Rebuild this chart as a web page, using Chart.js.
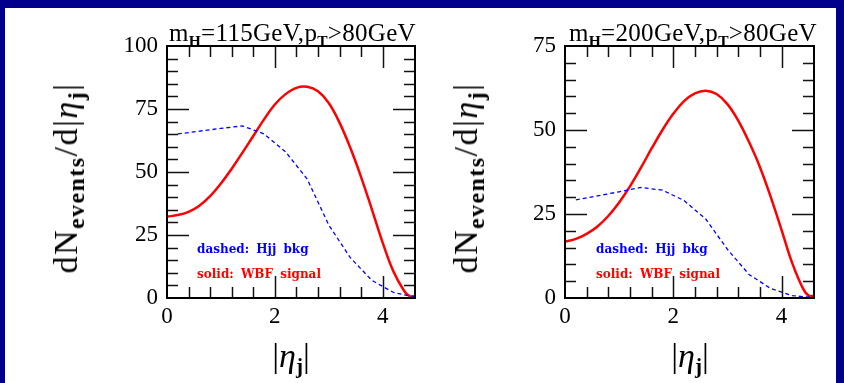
<!DOCTYPE html>
<html><head><meta charset="utf-8">
<script src="https://cdn.jsdelivr.net/npm/chart.js@4.4.1/dist/chart.umd.min.js"></script>
<style>
html,body{margin:0;padding:0}
body{width:844px;height:383px;background:#00008c;position:relative;overflow:hidden;font-family:"Liberation Serif",serif}
#panel{position:absolute;left:5px;top:8px;width:831px;height:375px;background:#fff}
canvas{position:absolute;top:0}
.t{position:absolute;white-space:nowrap;color:#000;line-height:1}
.title{font-size:25px;letter-spacing:0.3px}
.s{font-size:0.62em;position:relative;top:0.3em;font-weight:bold}
.ax{font-size:34px;transform:translate(-50%,-50%)}
.ay{font-size:34px;letter-spacing:1.5px;transform:translate(-50%,-50%) rotate(-90deg)}
.ay .s{font-size:0.7em}
.eta{font-style:italic}
.leg{font-family:"DejaVu Serif",serif;font-weight:bold;font-size:12px;word-spacing:3px}
</style>
</head>
<body>
<div id="panel"></div>
<canvas id="c1" width="422" height="383" style="left:0"></canvas>
<canvas id="c2" width="422" height="383" style="left:422px"></canvas>

<div class="t title" style="left:169px;top:20px">m<span class="s">H</span>=115GeV,p<span class="s">T</span>&gt;80GeV</div>
<div class="t title" style="left:569px;top:20px">m<span class="s">H</span>=200GeV,p<span class="s">T</span>&gt;80GeV</div>

<div class="t ay" style="left:66px;top:178px">dN<span class="s">events</span>/d|<span class="eta">η</span><span class="s">j</span>|</div>
<div class="t ay" style="left:466px;top:178px">dN<span class="s">events</span>/d|<span class="eta">η</span><span class="s">j</span>|</div>

<div class="t ax" style="left:291px;top:356px">|<span class="eta">η</span><span class="s">j</span>|</div>
<div class="t ax" style="left:690px;top:356px">|<span class="eta">η</span><span class="s">j</span>|</div>

<div class="t leg" style="left:197px;top:243px;color:#0000ff">dashed: Hjj bkg</div>
<div class="t leg" style="left:197px;top:268px;color:#ff0000">solid: WBF signal</div>
<div class="t leg" style="left:596px;top:243px;color:#0000ff">dashed: Hjj bkg</div>
<div class="t leg" style="left:596px;top:268px;color:#ff0000">solid: WBF signal</div>

<script>
// ---- data ----
const etaSignal = [0.0,0.2,0.4,0.6,0.8,1.0,1.2,1.4,1.6,1.8,2.0,2.2,2.4,2.6,2.8,3.0,3.2,3.4,3.6,3.8,4.0,4.2,4.4,4.5,4.6];
const signal115 = [32.3,32.9,34.2,36.6,40.4,45.4,51.3,57.7,64.3,70.9,76.8,80.9,83.4,83.8,82.0,77.4,69.6,59.6,48.0,35.2,22.0,10.5,2.8,0.7,0.8];
const signal200 = [16.8,17.6,19.1,21.3,24.4,28.4,33.2,38.7,44.5,50.0,54.8,58.6,60.9,61.7,60.7,57.7,52.8,46.4,39.0,30.1,20.3,10.3,2.7,0.7,0.6];

const etaBkg = [0.2,0.6,1.0,1.4,1.8,2.2,2.6,3.0,3.4,3.8,4.2,4.6];
const bkg115 = [65.1,66.2,67.3,68.3,65.1,58.0,47.2,29.0,16.0,7.0,2.2,0.3];
const bkg200 = [29.2,30.4,31.6,32.9,32.1,29.0,23.5,14.5,7.0,2.8,0.7,0.1];

const xMajorLabels = [0, 2, 4];
const y115Labels = [0, 25, 50, 75, 100];
const y200Labels = [0, 25, 50, 75];

// ---- helpers ----
const near = (a, b) => Math.abs(a - b) < 1e-6;
const isIn = (arr, v) => arr.some(m => near(m, v));

function frameTicksPlugin(yMajor) {
  return {
    id: 'frameTicks',
    afterDatasetsDraw(chart) {
      const {ctx, chartArea: a, scales: {x, y}} = chart;
      ctx.save();
      ctx.strokeStyle = '#111';
      ctx.lineWidth = 1.5;
      const seg = (x1, y1, x2, y2) => { ctx.beginPath(); ctx.moveTo(x1, y1); ctx.lineTo(x2, y2); ctx.stroke(); };
      x.ticks.forEach(t => {
        if (t.value <= x.min + 1e-6 || t.value >= x.max - 1e-6) return;
        const px = Math.round(x.getPixelForValue(t.value)) + 0.5;
        const L = isIn(xMajorLabels, t.value) ? 22 : 11;
        seg(px, a.bottom, px, a.bottom - L);
        seg(px, a.top, px, a.top + L);
      });
      y.ticks.forEach(t => {
        if (t.value <= y.min + 1e-6 || t.value >= y.max - 1e-6) return;
        const py = Math.round(y.getPixelForValue(t.value)) + 0.5;
        const L = isIn(yMajor, t.value) ? 22 : 11;
        seg(a.left, py, a.left + L, py);
        seg(a.right, py, a.right - L, py);
      });
      ctx.lineWidth = 2;
      ctx.strokeStyle = '#000';
      ctx.strokeRect(a.left, a.top, a.right - a.left, a.bottom - a.top);
      ctx.restore();
    }
  };
}

function makeChart(id, sig, bkg, ymax, yMajor, padLeft, padRight) {
  const tickFont = {family: 'Liberation Serif', size: 23};
  return new Chart(document.getElementById(id), {
    type: 'line',
    data: {
      datasets: [
        {data: etaBkg.map((x, i) => ({x, y: bkg[i]})), borderColor: '#0000ff', borderWidth: 1.3,
         borderDash: [4, 3], pointRadius: 0, tension: 0, fill: false},
        {data: etaSignal.map((x, i) => ({x, y: sig[i]})), borderColor: '#ff0000', borderWidth: 2.5,
         pointRadius: 0, tension: 0.4, fill: false}
      ]
    },
    options: {
      responsive: false, animation: false, devicePixelRatio: 1,
      layout: {padding: {left: padLeft, right: padRight, top: 46, bottom: 45}},
      plugins: {legend: {display: false}, tooltip: {enabled: false}, title: {display: false}},
      scales: {
        x: {
          type: 'linear', min: 0, max: 4.6,
          ticks: {stepSize: 0.4, autoSkip: false, maxRotation: 0, padding: 5, color: '#000', font: tickFont,
                  callback: v => isIn(xMajorLabels, v) ? String(Math.round(v)) : ''},
          grid: {display: false, drawTicks: false}, border: {display: false},
          afterFit: s => { s.height = 40; }
        },
        y: {
          type: 'linear', min: 0, max: ymax,
          ticks: {stepSize: 5, autoSkip: false, padding: 9, color: '#000', font: tickFont,
                  callback: v => isIn(yMajor, v) ? String(Math.round(v)) : ''},
          grid: {display: false, drawTicks: false}, border: {display: false},
          afterFit: s => { s.width = 60; }
        }
      }
    },
    plugins: [frameTicksPlugin(yMajor)]
  });
}

makeChart('c1', signal115, bkg115, 100, y115Labels, 107, 7);
makeChart('c2', signal200, bkg200, 75, y200Labels, 83, 30);
</script>
</body></html>
